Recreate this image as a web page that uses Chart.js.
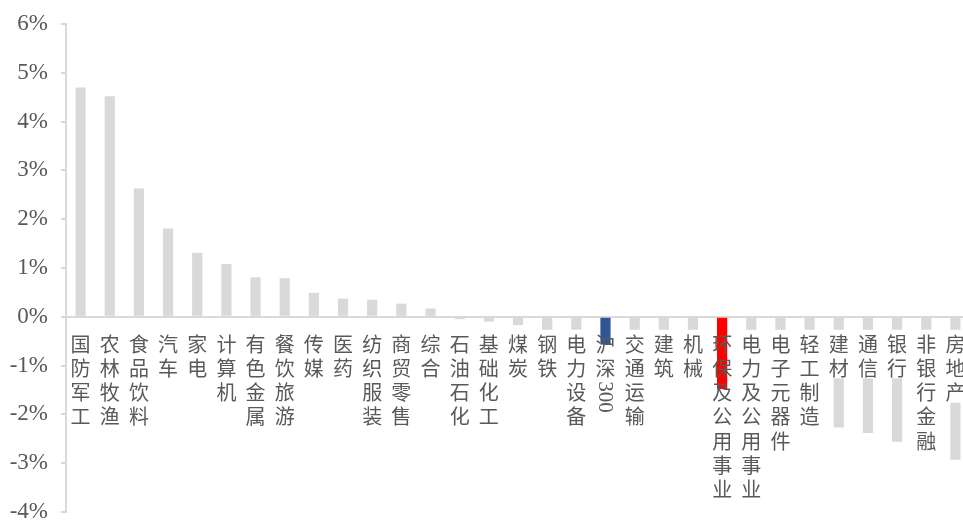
<!DOCTYPE html>
<html>
<head>
<meta charset="utf-8">
<script src="https://cdn.jsdelivr.net/npm/chart.js@4/dist/chart.umd.min.js"></script>
<style>
  html, body { margin: 0; padding: 0; background: #fff; overflow: hidden; }
  #wrap { width: 970px; height: 520px; overflow: hidden; }
</style>
</head>
<body>
<div id="wrap"><canvas id="myChart" width="970" height="533"></canvas></div>
<script>
// weekly change by sector, in %
const categories = [
  '国防军工', '农林牧渔', '食品饮料', '汽车', '家电', '计算机', '有色金属', '餐饮旅游',
  '传媒', '医药', '纺织服装', '商贸零售', '综合', '石油石化', '基础化工', '煤炭', '钢铁',
  '电力设备', '沪深300', '交通运输', '建筑', '机械', '环保及公用事业', '电力及公用事业',
  '电子元器件', '轻工制造', '建材', '通信', '银行', '非银行金融', '房地产'
]
const changes = [
  4.70, 4.52, 2.63, 1.81, 1.31, 1.08, 0.81, 0.79,
  0.49, 0.37, 0.35, 0.27, 0.17, -0.05, -0.10, -0.17, -0.28,
  -0.45, -0.57, -0.75, -0.95, -1.20, -1.48, -1.60,
  -1.85, -2.05, -2.27, -2.38, -2.56, -2.60, -2.93
]
// highlighted bars: index name -> colour
const highlights = { '沪深300': '#2f5597', '环保及公用事业': '#ff0000' }
const yTicks = [-4, -3, -2, -1, 0, 1, 2, 3, 4, 5, 6]

const greyValues = changes.map((v, i) => highlights[categories[i]] ? null : v)
const markValues = changes.map((v, i) => highlights[categories[i]] ? v : null)
const markColors = categories.map(c => highlights[c] || 'transparent')

const textColor = '#595959'
const charStep = 24.3
const labelFont = '20px "Noto Sans CJK SC"'
const digitFont = '21px "Liberation Serif"'

// split a label into vertical pieces, runs of digits stay together and get rotated
function splitLabel (name) {
  let parts = name.match(/[0-9]+|./g)
  return parts
}

function labelTop (chart) {
  return chart.scales.y.getPixelForValue(0) + 15
}

function pieceHeight (ctx, piece) {
  if (/^[0-9]+$/.test(piece)) {
    ctx.font = digitFont
    return ctx.measureText(piece).width + 6
  }
  return charStep
}

const verticalLabels = {
  id: 'verticalLabels',
  beforeDatasetDraw (chart, args) {
    // white box behind each label, grey bars disappear under it
    if (args.index !== 0) return
    const ctx = chart.ctx
    const x = chart.scales.x
    const top = labelTop(chart)
    ctx.save()
    ctx.fillStyle = '#fff'
    categories.forEach((name, i) => {
      let h = 0
      splitLabel(name).forEach(p => { h += pieceHeight(ctx, p) })
      ctx.fillRect(x.getPixelForValue(i) - 11, top - 2, 22, h)
    })
    ctx.restore()
  },
  afterDatasetsDraw (chart) {
    const ctx = chart.ctx
    const x = chart.scales.x
    const top = labelTop(chart)
    ctx.save()
    ctx.fillStyle = textColor
    ctx.textAlign = 'center'
    ctx.textBaseline = 'middle'
    categories.forEach((name, i) => {
      const cx = x.getPixelForValue(i)
      let y = top
      splitLabel(name).forEach(p => {
        const h = pieceHeight(ctx, p)
        if (/^[0-9]+$/.test(p)) {
          ctx.save()
          ctx.font = digitFont
          ctx.translate(cx, y + h / 2 - 2)
          ctx.rotate(Math.PI / 2)
          ctx.fillText(p, 0, 1)
          ctx.restore()
        } else {
          ctx.font = labelFont
          ctx.fillText(p, cx, y + h / 2)
        }
        y += h
      })
    })
    ctx.restore()
  }
}

const ctx = document.getElementById('myChart').getContext('2d')
new Chart(ctx, {
  type: 'bar',
  data: {
    labels: categories,
    datasets: [
      {
        label: 'highlight',
        data: markValues,
        backgroundColor: markColors,
        grouped: false,
        barPercentage: 0.35,
        categoryPercentage: 1
      },
      {
        label: 'sectors',
        data: greyValues,
        backgroundColor: '#d9d9d9',
        grouped: false,
        barPercentage: 0.35,
        categoryPercentage: 1
      }
    ]
  },
  options: {
    responsive: false,
    animation: false,
    layout: { padding: { top: 24, bottom: 8, left: 0, right: 0 } },
    plugins: {
      legend: { display: false },
      tooltip: { enabled: false }
    },
    scales: {
      x: { display: false },
      y: {
        min: yTicks[0],
        max: yTicks[yTicks.length - 1],
        afterBuildTicks: s => { s.ticks = yTicks.map(v => ({ value: v })) },
        afterFit: s => { s.width = 66 },
        ticks: {
          callback: v => v + '%',
          color: textColor,
          padding: 13,
          font: { family: 'Liberation Serif', size: 23, lineHeight: 0.7 }
        },
        grid: {
          color: c => (c.tick && c.tick.value === 0) ? '#d9d9d9' : 'rgba(0,0,0,0)',
          tickColor: '#d9d9d9',
          tickLength: 5,
          lineWidth: 2
        },
        border: { color: '#d9d9d9', width: 2 }
      }
    }
  },
  plugins: [verticalLabels]
})
</script>
</body>
</html>
